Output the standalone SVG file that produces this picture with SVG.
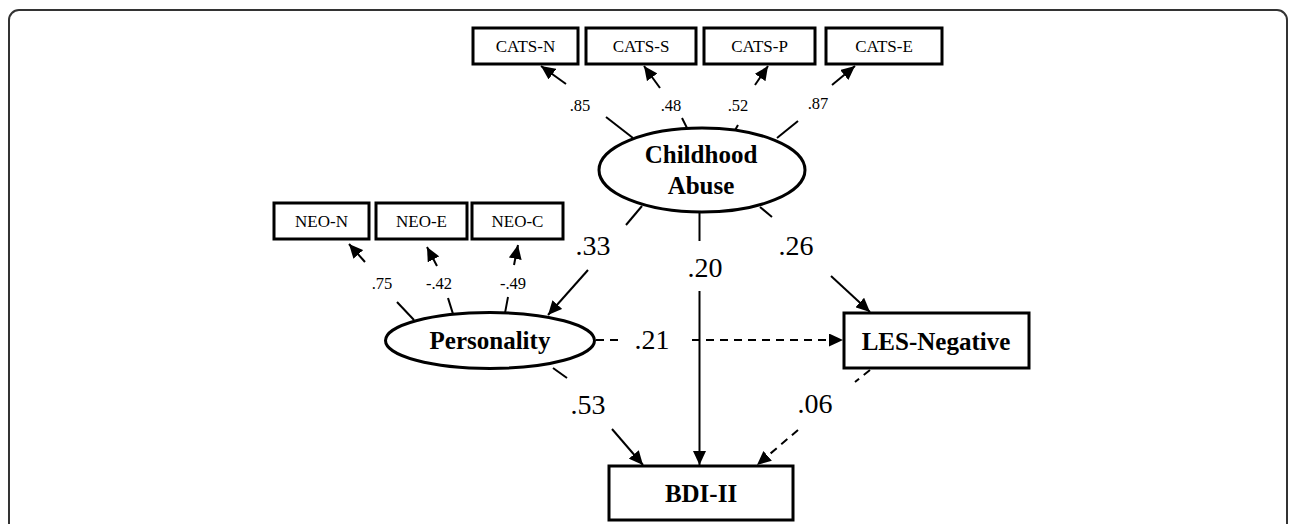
<svg xmlns="http://www.w3.org/2000/svg" width="1296" height="524" viewBox="0 0 1296 524">
<style>
.box{fill:#fff;stroke:#000;stroke-width:3}
.ell{fill:#fff;stroke:#000;stroke-width:3}
.ln{stroke:#000;stroke-width:2;fill:none}
.dash{stroke:#000;stroke-width:2;fill:none;stroke-dasharray:8 6}
.t{font-family:"Liberation Serif","Times New Roman",serif;text-anchor:middle;fill:#000}
.sm{font-size:17px}
.lab{font-size:16.5px}
.big{font-size:28px}
.bold{font-size:25px;font-weight:bold}
</style>
<defs>
<marker id="ah" markerUnits="userSpaceOnUse" markerWidth="15" markerHeight="13" refX="14" refY="6.5" orient="auto">
<path d="M0,0 L14,6.5 L0,13 Z" fill="#000"/>
</marker>
</defs>
<rect x="9" y="10" width="1278" height="540" rx="10" fill="none" stroke="#333" stroke-width="2"/>
<g id="connectors">
<line class="ln" x1="633" y1="138" x2="606" y2="117"/>
<line class="ln" x1="566" y1="84" x2="541" y2="66" marker-end="url(#ah)"/>
<line class="ln" x1="687" y1="128" x2="682" y2="118"/>
<line class="ln" x1="660" y1="88" x2="644" y2="66" marker-end="url(#ah)"/>
<line class="ln" x1="734" y1="132" x2="738" y2="125"/>
<line class="ln" x1="755" y1="85" x2="768" y2="66" marker-end="url(#ah)"/>
<line class="ln" x1="777" y1="138" x2="798" y2="121"/>
<line class="ln" x1="832" y1="85" x2="855" y2="66" marker-end="url(#ah)"/>
<line class="ln" x1="414" y1="320" x2="397" y2="302"/>
<line class="ln" x1="365" y1="262" x2="349" y2="244" marker-end="url(#ah)"/>
<line class="ln" x1="453" y1="314" x2="448" y2="298"/>
<line class="ln" x1="437" y1="266" x2="427" y2="247" marker-end="url(#ah)"/>
<line class="ln" x1="505" y1="313" x2="508" y2="297"/>
<line class="ln" x1="514" y1="265" x2="518" y2="245" marker-end="url(#ah)"/>
<line class="ln" x1="642" y1="206" x2="626" y2="225"/>
<line class="ln" x1="588" y1="270" x2="548" y2="315" marker-end="url(#ah)"/>
<line class="ln" x1="699.5" y1="212" x2="699.5" y2="241"/>
<line class="ln" x1="699.5" y1="291" x2="699.5" y2="465" marker-end="url(#ah)"/>
<line class="ln" x1="760" y1="207" x2="772" y2="217"/>
<line class="ln" x1="831" y1="276" x2="870" y2="312" marker-end="url(#ah)"/>
<line class="dash" x1="596" y1="340" x2="620" y2="340"/>
<line class="dash" x1="692" y1="340" x2="843" y2="340" marker-end="url(#ah)"/>
<line class="ln" x1="553" y1="368" x2="567" y2="378"/>
<line class="ln" x1="612" y1="429" x2="643" y2="465" marker-end="url(#ah)"/>
<line class="dash" x1="870" y1="370" x2="855" y2="382" stroke-dasharray="10 5"/>
<line class="dash" x1="798" y1="430" x2="757" y2="465" marker-end="url(#ah)"/>
</g>
<g id="labels">
<text class="t lab" x="580" y="111">.85</text>
<text class="t lab" x="671" y="111">.48</text>
<text class="t lab" x="738" y="111">.52</text>
<text class="t lab" x="818" y="109">.87</text>
<text class="t lab" x="382" y="289">.75</text>
<text class="t lab" x="439" y="289">-.42</text>
<text class="t lab" x="513" y="289">-.49</text>
<text class="t big" x="593" y="255">.33</text>
<text class="t big" x="705" y="277">.20</text>
<text class="t big" x="796" y="255">.26</text>
<text class="t big" x="652" y="349">.21</text>
<text class="t big" x="588" y="414">.53</text>
<text class="t big" x="815" y="413">.06</text>
</g>
<g id="cats-n"><rect class="box" x="473" y="28" width="105" height="36"/><text class="t sm" x="525.5" y="52">CATS-N</text></g>
<g id="cats-s"><rect class="box" x="586" y="28" width="110" height="36"/><text class="t sm" x="641" y="52">CATS-S</text></g>
<g id="cats-p"><rect class="box" x="704" y="28" width="111" height="36"/><text class="t sm" x="759.5" y="52">CATS-P</text></g>
<g id="cats-e"><rect class="box" x="826" y="28" width="116" height="36"/><text class="t sm" x="884" y="52">CATS-E</text></g>
<g id="childhood-abuse"><ellipse class="ell" cx="702" cy="170" rx="103" ry="42"/><text class="t bold" x="701" y="163">Childhood</text><text class="t bold" x="701" y="194">Abuse</text></g>
<g id="neo-n"><rect class="box" x="274" y="203" width="95" height="36"/><text class="t sm" x="321.5" y="227">NEO-N</text></g>
<g id="neo-e"><rect class="box" x="376" y="203" width="91" height="36"/><text class="t sm" x="421.5" y="227">NEO-E</text></g>
<g id="neo-c"><rect class="box" x="472" y="203" width="91" height="36"/><text class="t sm" x="517.5" y="227">NEO-C</text></g>
<g id="personality"><ellipse class="ell" cx="490" cy="340.5" rx="104.5" ry="28"/><text class="t bold" x="490" y="349">Personality</text></g>
<g id="les-negative"><rect class="box" x="844" y="313" width="185" height="55"/><text class="t bold" x="936" y="350">LES-Negative</text></g>
<g id="bdi-ii"><rect class="box" x="609" y="466" width="184" height="54"/><text class="t bold" x="701" y="502">BDI-II</text></g>
</svg>
